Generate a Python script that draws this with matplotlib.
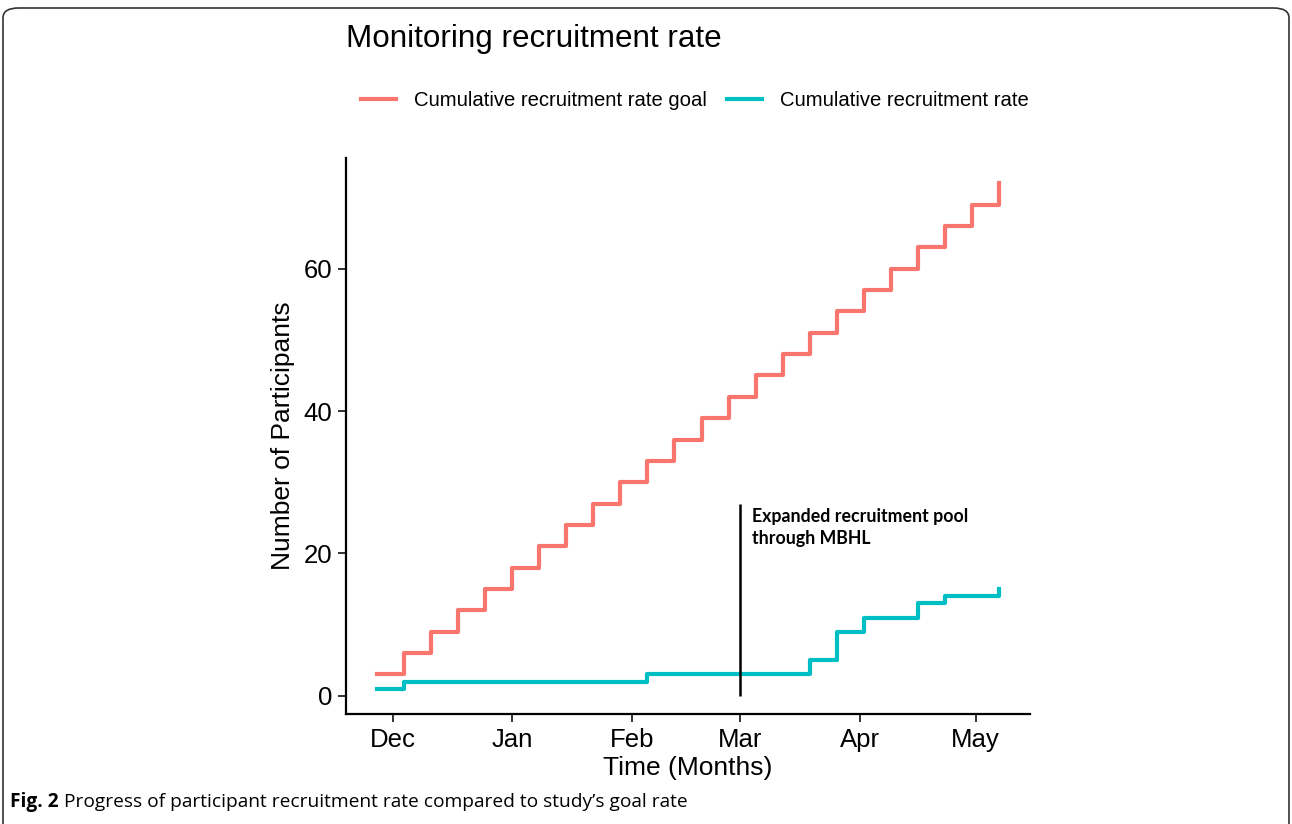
import datetime as dt
import matplotlib
matplotlib.use("Agg")
import matplotlib.pyplot as plt
from matplotlib.patches import FancyBboxPatch

# weekly dates (one point per week)
week_dates = [
    "2018-11-27", "2018-12-04", "2018-12-11", "2018-12-18", "2018-12-25",
    "2019-01-01", "2019-01-08", "2019-01-15", "2019-01-22", "2019-01-29",
    "2019-02-05", "2019-02-12", "2019-02-19", "2019-02-26", "2019-03-05",
    "2019-03-12", "2019-03-19", "2019-03-26", "2019-04-02", "2019-04-09",
    "2019-04-16", "2019-04-23", "2019-04-30", "2019-05-07",
]
goal = [3, 6, 9, 12, 15, 18, 21, 24, 27, 30, 33, 36, 39, 42, 45, 48,
        51, 54, 57, 60, 63, 66, 69, 72]
actual = [1, 2, 2, 2, 2, 2, 2, 2, 2, 2, 3, 3, 3, 3, 3, 3,
          5, 9, 11, 11, 13, 14, 14, 15]
month_ticks = ["2018-12-01", "2019-01-01", "2019-02-01", "2019-03-01",
               "2019-04-01", "2019-05-01"]
month_labels = ["Dec", "Jan", "Feb", "Mar", "Apr", "May"]
event_date = "2019-03-01"
event_top = 27
event_text = "Expanded recruitment pool\nthrough MBHL"

RED = "#F8766D"
TEAL = "#00BFC4"


def to_date(s):
    return dt.datetime.strptime(s, "%Y-%m-%d")


def main():
    x = [to_date(d) for d in week_dates]

    fig = plt.figure(figsize=(12.92, 8.24), dpi=100)
    fig.patch.set_facecolor("white")

    # rounded frame around the figure (bottom edge falls off the canvas)
    frame = FancyBboxPatch((3 / 1292, -0.05), 1286 / 1292, 1.05 - 8 / 824,
                           boxstyle="round,pad=0,rounding_size=0.012",
                           transform=fig.transFigure, fill=False,
                           edgecolor="#333333", linewidth=1.2)
    fig.patches.append(frame)

    ax = fig.add_axes([346 / 1292, 1 - 714 / 824, 684 / 1292, 556 / 824])
    ax.step(x, goal, where="post", color=RED, linewidth=3.0,
            label="Cumulative recruitment rate goal")
    ax.step(x, actual, where="post", color=TEAL, linewidth=3.0,
            label="Cumulative recruitment rate")

    ax.vlines(to_date(event_date), 0, event_top, color="black", linewidth=1.8)
    ax.text(to_date(event_date) + dt.timedelta(days=3), 26.4, event_text,
            fontsize=12.8, fontweight="bold", family="Lato", va="top",
            ha="left", linespacing=1.35)

    # ggplot-like 5% expansion
    span = x[-1] - x[0]
    ax.set_xlim(x[0] - span * 0.05, x[-1] + span * 0.05)
    ax.set_ylim(1 - 71 * 0.05, 72 + 71 * 0.05)

    ax.set_xticks([to_date(d) for d in month_ticks])
    ax.set_xticklabels(month_labels)
    ax.set_yticks([0, 20, 40, 60])

    for side in ["top", "right"]:
        ax.spines[side].set_visible(False)
    for side in ["left", "bottom"]:
        ax.spines[side].set_linewidth(1.6)
        ax.spines[side].set_color("black")
    ax.tick_params(axis="both", length=6, width=1.4, color="#333333",
                   labelsize=18.5, labelcolor="black", pad=4)
    for lab in ax.get_xticklabels() + ax.get_yticklabels():
        lab.set_family("Liberation Sans")

    ax.set_xlabel("Time (Months)", fontsize=19, family="Liberation Sans",
                  labelpad=3)
    ax.set_ylabel("Number of Participants", fontsize=19,
                  family="Liberation Sans", labelpad=6)

    fig.text(346 / 1292, 1 - 47 / 824, "Monitoring recruitment rate",
             fontsize=22.6, family="Liberation Sans", va="baseline", ha="left")

    fig.legend(loc="center", bbox_to_anchor=(695 / 1292, 1 - 101 / 824),
               ncol=2, frameon=False, handlelength=1.7, handletextpad=0.9,
               columnspacing=1.0, prop={"family": "Liberation Sans", "size": 14.6})

    t1 = fig.text(10 / 1292, 1 - 807 / 824, "Fig. 2", fontsize=13.8,
                  fontweight="bold", family="Open Sans", va="baseline")
    t2 = fig.text(0, 1 - 807 / 824,
                  " Progress of participant recruitment rate compared to study\u2019s goal rate",
                  fontsize=13.8, family="Open Sans", va="baseline")
    fig.canvas.draw()
    bb = t1.get_window_extent()
    t2.set_x(bb.x1 / fig.bbox.width)

    fig.savefig("out.png", dpi=100)


if __name__ == "__main__":
    main()
